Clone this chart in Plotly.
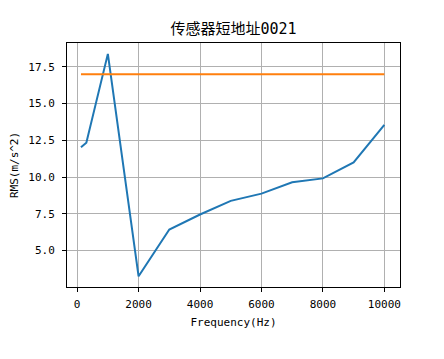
import plotly.graph_objects as go

freq = [125, 300, 1000, 2000, 3000, 4000, 5000, 6000, 7000, 8000, 9000, 10000]
rms = [12.02, 12.33, 18.38, 3.25, 6.43, 7.45, 8.38, 8.87, 9.64, 9.91, 11.0, 13.55]
threshold_x = [125, 10000]
threshold_y = [17.0, 17.0]

title_text = "传感器短地址0021"
x_label = "Frequency(Hz)"
y_label = "RMS(m/s^2)"
x_ticks = [0, 2000, 4000, 6000, 8000, 10000]
y_ticks = [5.0, 7.5, 10.0, 12.5, 15.0, 17.5]

mono = "DejaVu Sans Mono, Noto Sans CJK SC"

fig = go.Figure()
fig.add_trace(go.Scatter(x=freq, y=rms, mode="lines",
                         line=dict(color="#1f77b4", width=2), showlegend=False))
fig.add_trace(go.Scatter(x=threshold_x, y=threshold_y, mode="lines",
                         line=dict(color="#ff7f0e", width=2), showlegend=False))

axis_common = dict(showline=True, mirror=True, linecolor="black", linewidth=1,
                   showgrid=True, gridcolor="#b0b0b0", gridwidth=1,
                   ticks="outside", ticklen=4, tickcolor="black", tickwidth=1,
                   zeroline=False, automargin=False,
                   tickfont=dict(family=mono, size=11, color="black"))

fig.update_layout(
    width=444, height=359,
    margin=dict(l=59, r=52, t=35, b=80),
    paper_bgcolor="white", plot_bgcolor="white",
    title=dict(text=title_text, x=0.5, xref="paper", y=1 - 21 / 359, yref="container",
               yanchor="middle", xanchor="center",
               font=dict(family=mono, size=15, color="black")),
    xaxis=dict(range=[-330, 10510], tickvals=x_ticks, ticktext=[str(v) for v in x_ticks],
               ticklabelstandoff=3,
               title=dict(text=x_label, font=dict(family=mono, size=11, color="black"), standoff=8),
               **axis_common),
    yaxis=dict(range=[2.52, 19.12], tickvals=y_ticks, ticktext=[f"{v:.1f}" for v in y_ticks],
               ticklabelstandoff=5,
               title=dict(text=y_label, font=dict(family=mono, size=11, color="black"), standoff=8),
               **axis_common),
)

fig.write_html("out.html")
